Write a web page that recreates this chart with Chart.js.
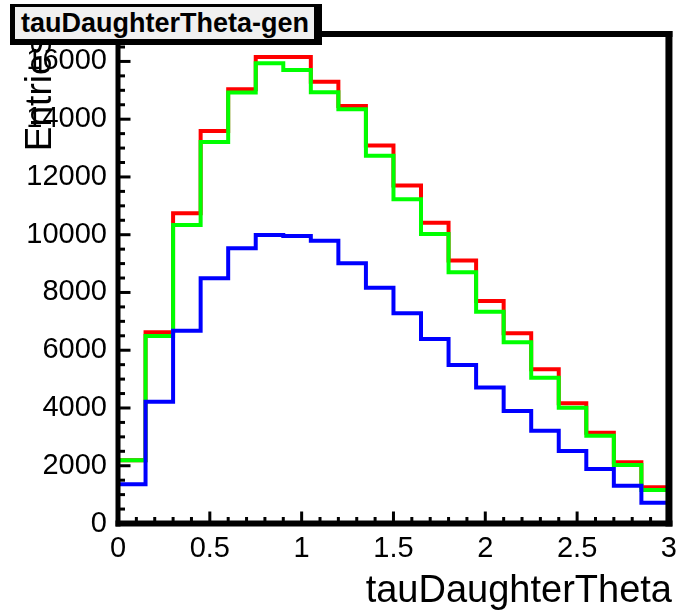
<!DOCTYPE html>
<html>
<head>
<meta charset="utf-8">
<script src="https://cdn.jsdelivr.net/npm/chart.js@4/dist/chart.umd.min.js"></script>
<style>
  html, body { margin: 0; padding: 0; background: #ffffff; }
  #wrap { position: relative; width: 685px; height: 614px; }
  #c { position: absolute; left: 0; top: 0; }
  #title {
    position: absolute; left: 10px; top: 4px; width: 312px; height: 41px;
    box-sizing: border-box; background: #f0f0f0;
    border-top: 3px solid #000; border-left: 5px solid #000;
    border-right: 8px solid #000; border-bottom: 6px solid #000;
    font: bold 27px "Liberation Sans", Arial, sans-serif; color: #000;
    line-height: 32px; padding-left: 6px; white-space: nowrap; overflow: hidden;
  }
</style>
</head>
<body>
<div id="wrap">
  <canvas id="c" width="685" height="614"></canvas>
  <div id="title">tauDaughterTheta-gen</div>
</div>
<script>
// ---- data ----
const binEdges = [0,0.15,0.3,0.45,0.6,0.75,0.9,1.05,1.2,1.35,1.5,1.65,1.8,1.95,2.1,2.25,2.4,2.55,2.7,2.85,3.0];
const redCounts   = [2190, 6620, 10740, 13590, 15040, 16150, 16150, 15300, 14460, 13085, 11700, 10410, 9110, 7705, 6585, 5340, 4160, 3145, 2120, 1255];
const greenCounts = [2190, 6490, 10340, 13210, 14920, 15935, 15705, 14930, 14345, 12735, 11225, 10025, 8700, 7335, 6275, 5050, 4010, 3040, 2025, 1160];
const blueCounts  = [1355, 4220, 6675, 8490, 9530, 9990, 9955, 9795, 9010, 8165, 7280, 6390, 5490, 4705, 3895, 3215, 2510, 1885, 1310, 720];
const xTickValues = [0, 0.5, 1, 1.5, 2, 2.5, 3];
const xTickLabels = ["0", "0.5", "1", "1.5", "2", "2.5", "3"];
const yTickValues = [0, 2000, 4000, 6000, 8000, 10000, 12000, 14000, 16000];
const yTickLabels = ["0", "2000", "4000", "6000", "8000", "10000", "12000", "14000", "16000"];
const xMinorStep = 0.1, yMinorStep = 500;
const xRange = [0, 3], yRange = [0, 16950];
const xTitle = "tauDaughterTheta", yTitle = "Entries";

function histPoints(counts) {
  const pts = [{x: binEdges[0], y: 0}];
  counts.forEach((v, i) => pts.push({x: binEdges[i], y: v}));
  pts.push({x: binEdges[binEdges.length - 1], y: counts[counts.length - 1]});
  return pts;
}

const FONT = '"Liberation Sans", Arial, sans-serif';

const framePlugin = {
  id: 'rootFrame',
  afterDatasetsDraw(chart) {
    const ctx = chart.ctx, a = chart.chartArea;
    const xs = chart.scales.x, ys = chart.scales.y;
    ctx.save();
    ctx.strokeStyle = '#000';
    ctx.lineCap = 'butt';
    // ticks (inward)
    ctx.lineWidth = 3;
    for (let v = xRange[0]; v <= xRange[1] + 1e-9; v += xMinorStep) {
      const isMajor = xTickValues.some(t => Math.abs(t - v) < 1e-6);
      const px = xs.getPixelForValue(v);
      ctx.beginPath();
      ctx.moveTo(px, a.bottom);
      ctx.lineTo(px, a.bottom - (isMajor ? 12 : 6.5));
      ctx.stroke();
    }
    for (let v = yRange[0]; v <= yRange[1]; v += yMinorStep) {
      const isMajor = yTickValues.includes(v);
      const py = ys.getPixelForValue(v);
      ctx.beginPath();
      ctx.moveTo(a.left, py);
      ctx.lineTo(a.left + (isMajor ? 12.5 : 7), py);
      ctx.stroke();
    }
    // frame
    ctx.lineWidth = 5;
    ctx.beginPath(); ctx.moveTo(a.left, a.top - 3); ctx.lineTo(a.left, a.bottom + 3); ctx.stroke();
    ctx.lineWidth = 6;
    ctx.beginPath(); ctx.moveTo(a.left - 2.5, a.bottom); ctx.lineTo(a.right + 3.5, a.bottom); ctx.stroke();
    ctx.beginPath(); ctx.moveTo(a.left - 2.5, a.top); ctx.lineTo(a.right + 3.5, a.top); ctx.stroke();
    ctx.lineWidth = 7;
    ctx.beginPath(); ctx.moveTo(a.right, a.top - 3); ctx.lineTo(a.right, a.bottom + 3); ctx.stroke();
    // axis titles
    ctx.fillStyle = '#000';
    ctx.font = '38px ' + FONT;
    ctx.textAlign = 'right';
    ctx.textBaseline = 'alphabetic';
    ctx.fillText(xTitle, 672, 602);
    ctx.translate(51, 36);
    ctx.rotate(-Math.PI / 2);
    ctx.font = '37px ' + FONT;
    ctx.textAlign = 'right';
    ctx.fillText(yTitle, 0, 0);
    ctx.restore();
  }
};

const common = { pointRadius: 0, borderWidth: 4, stepped: true, tension: 0, fill: false,
                 borderJoinStyle: 'miter', borderCapStyle: 'butt', clip: 3 };

new Chart(document.getElementById('c'), {
  type: 'line',
  data: {
    datasets: [
      Object.assign({ label: 'blue', data: histPoints(blueCounts), borderColor: '#0000ff', order: 0 }, common),
      Object.assign({ label: 'green', data: histPoints(greenCounts), borderColor: '#00ff00', order: 1 }, common),
      Object.assign({ label: 'red', data: histPoints(redCounts), borderColor: '#ff0000', order: 2 }, common)
    ]
  },
  options: {
    responsive: false,
    animation: false,
    events: [],
    layout: { padding: { left: 0, right: 8.5, top: 34, bottom: 0 } },
    plugins: { legend: { display: false }, tooltip: { enabled: false }, title: { display: false } },
    scales: {
      x: {
        type: 'linear', min: xRange[0], max: xRange[1],
        grid: { display: false, drawTicks: false },
        border: { display: false },
        afterBuildTicks: ax => { ax.ticks = xTickValues.map(v => ({ value: v })); },
        afterFit: ax => { ax.height = 90.5; },
        ticks: {
          padding: 8, maxRotation: 0, autoSkip: false, color: '#000',
          font: { family: FONT, size: 29 },
          callback: (v) => xTickLabels[xTickValues.indexOf(v)]
        }
      },
      y: {
        type: 'linear', min: yRange[0], max: yRange[1],
        grid: { display: false, drawTicks: false },
        border: { display: false },
        afterBuildTicks: ax => { ax.ticks = yTickValues.map(v => ({ value: v })); },
        afterFit: ax => { ax.width = 118; },
        ticks: {
          padding: 11, autoSkip: false, color: '#000',
          font: { family: FONT, size: 29 },
          callback: (v) => yTickLabels[yTickValues.indexOf(v)]
        }
      }
    }
  },
  plugins: [framePlugin]
});
</script>
</body>
</html>
